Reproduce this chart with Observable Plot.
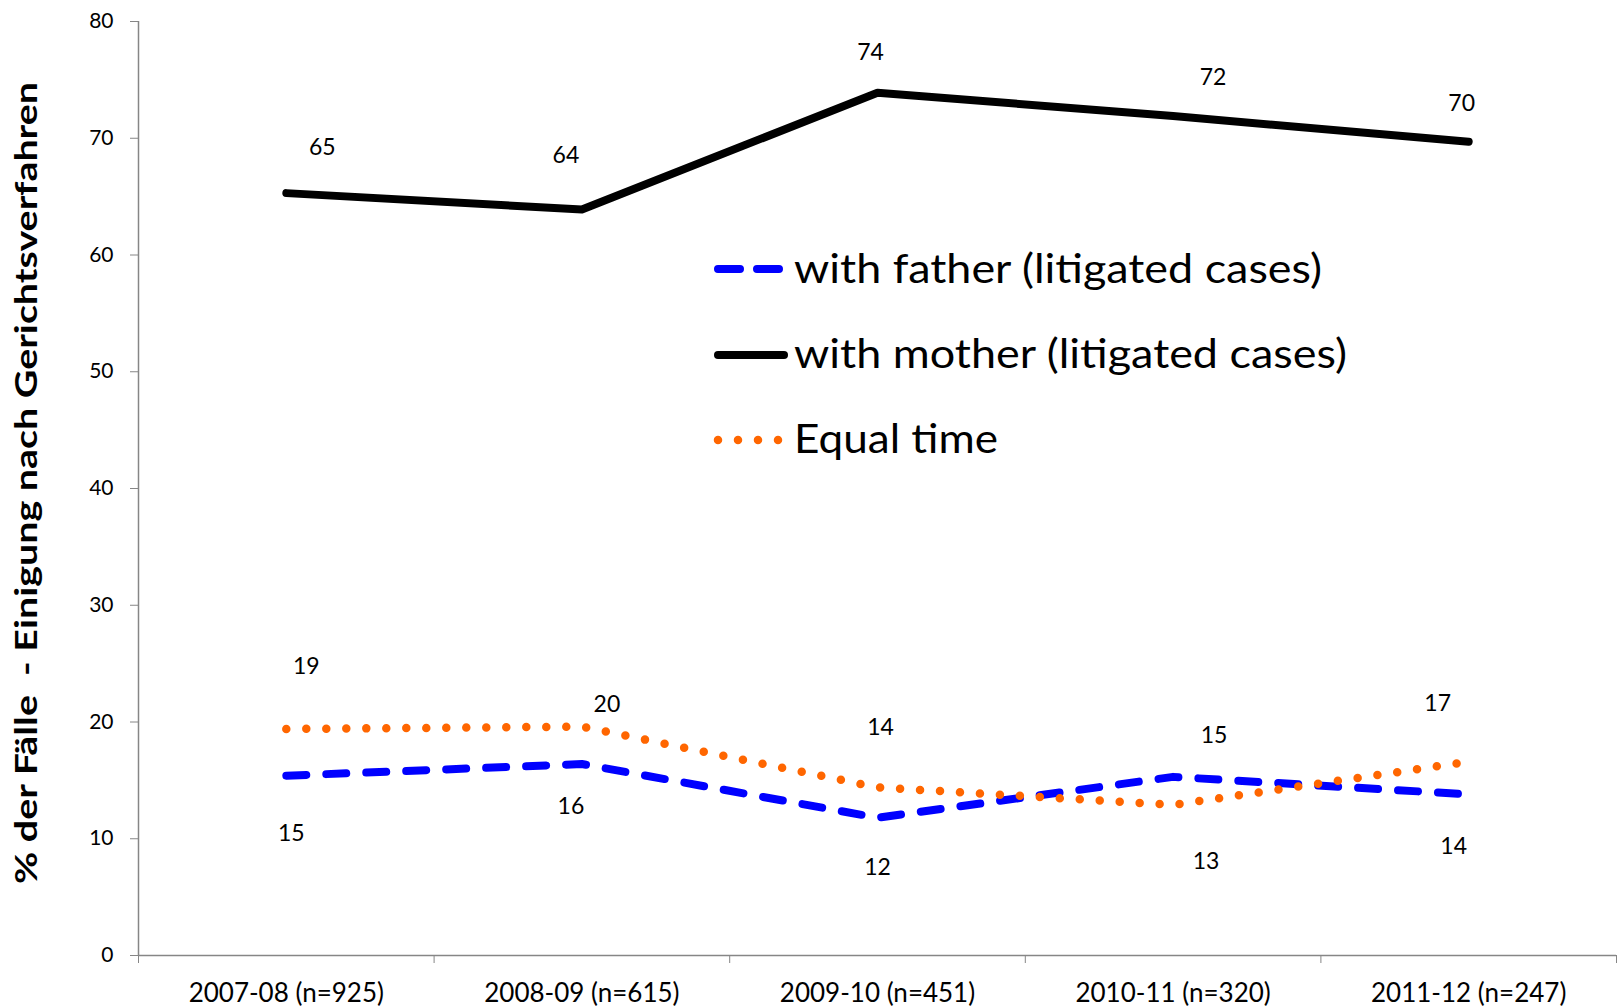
<!DOCTYPE html>
<html>
<head>
<meta charset="utf-8">
<script src="https://cdn.jsdelivr.net/npm/d3@7"></script>
<script src="https://cdn.jsdelivr.net/npm/@observablehq/plot@0.6"></script>
<style>
  body { margin: 0; background: #fff; }
  #chart svg { display: block; }
</style>
</head>
<body>
<div id="chart"></div>
<script>
// ---- data ----
const categories = ["2007-08 (n=925)", "2008-09 (n=615)", "2009-10 (n=451)", "2010-11 (n=320)", "2011-12 (n=247)"];
const withFather = [15.4, 16.4, 11.8, 15.3, 13.8];
const withMother = [65.3, 63.9, 73.9, 71.9, 69.7];
const equalTime  = [19.4, 19.6, 14.4, 12.9, 16.6];
const yTicks = [0, 10, 20, 30, 40, 50, 60, 70, 80];
const seriesNames = ["with father (litigated cases)", "with mother (litigated cases)", "Equal time"];
const yTitle = "% der Fälle  - Einigung nach Gerichtsverfahren";

// ---- styling (not data) ----
const styles = [
  {stroke: "#0000FF", strokeWidth: 8, strokeDasharray: "20,20", strokeLinecap: "round"},
  {stroke: "#000000", strokeWidth: 8, strokeDasharray: null, strokeLinecap: "round"},
  {stroke: "#FF6600", strokeWidth: 8.5, strokeDasharray: "0,20", strokeLinecap: "round"}
];
// label offsets in pixels (label centre relative to point)
const labelOffsets = [
  [[5, 58], [-11, 43], [0, 50], [41, -41], [-15, 52]],
  [[36, -45], [-16, -54], [-7, -40], [40, -38], [-7, -38]],
  [[20, -62], [25, -22], [3, -60], [33, 57], [-31, -58]]
];

const seriesValues = [withFather, withMother, equalTime];
const rows = seriesValues.map((vals, s) => vals.map((v, i) => ({series: seriesNames[s], s, i, category: categories[i], value: v})));

const fmt = d3.format(".0f");
const font = "Lato, 'Open Sans', sans-serif";

const marks = [
  Plot.axisY({ticks: yTicks, tickSize: 8, tickPadding: 17, stroke: "#868686", fill: "black", fontSize: 21, tickFormat: d => String(d), label: null}),
  Plot.axisX({ticks: d3.range(0, categories.length + 1), tickSize: 8, stroke: "#868686", tickFormat: () => "", label: null}),
  Plot.axisX({ticks: categories.map((c, i) => i + 0.5), tickSize: 0, tickPadding: 28, fontSize: 26, fill: "black", tickFormat: v => categories[Math.floor(v)], label: null}),
  Plot.ruleX([0], {stroke: "#868686", strokeWidth: 1.5}),
  Plot.ruleY([0], {stroke: "#868686", strokeWidth: 1.5})
];

rows.forEach((data, s) => {
  const st = styles[s];
  marks.push(Plot.line(data, {
    x: d => d.i + 0.5, y: "value",
    stroke: st.stroke, strokeWidth: st.strokeWidth,
    strokeDasharray: st.strokeDasharray, strokeLinecap: st.strokeLinecap, strokeLinejoin: "round"
  }));
});
rows.forEach((data, s) => {
  data.forEach((d, i) => {
    const [dx, dy] = labelOffsets[s][i];
    marks.push(Plot.text([d], {
      x: d => d.i + 0.5, y: "value", text: d => fmt(d.value),
      dx, dy, fontSize: 23, fill: "black", textAnchor: "middle"
    }));
  });
});

const W = 1617, H = 1008;
const chart = Plot.plot({
  width: W, height: H,
  marginLeft: 138, marginRight: 1, marginTop: 21, marginBottom: 53,
  style: {fontFamily: font, background: "white", color: "black", overflow: "visible"},
  x: {type: "linear", domain: [0, categories.length], axis: null},
  y: {domain: [0, 80], axis: null},
  marks
});

const svg = d3.select(chart);

// y-axis title
svg.append("text")
  .attr("transform", "translate(37,483) rotate(-90)")
  .attr("text-anchor", "middle")
  .attr("font-family", font)
  .attr("font-weight", "bold")
  .attr("font-size", 31)
  .attr("fill", "black")
  .attr("textLength", 802)
  .attr("lengthAdjust", "spacingAndGlyphs")
  .style("white-space", "pre")
  .text(yTitle);

// legend
const legend = svg.append("g").attr("font-family", font).attr("font-size", 41).attr("text-anchor", "start");
const legendRows = [
  {y: 269, baseline: 283, x1: 718, x2: 779, dash: "22,17", len: 528},
  {y: 355, baseline: 368, x1: 718, x2: 784, dash: null, len: 553},
  {y: 440, baseline: 453, x1: 718, x2: 779, dash: "0,20", len: 204}
];
legendRows.forEach((r, s) => {
  const st = styles[s];
  legend.append("line")
    .attr("x1", r.x1).attr("x2", r.x2).attr("y1", r.y).attr("y2", r.y)
    .attr("stroke", st.stroke).attr("stroke-width", st.strokeWidth)
    .attr("stroke-linecap", "round")
    .attr("stroke-dasharray", r.dash);
  legend.append("text")
    .attr("x", 794).attr("y", r.baseline)
    .attr("fill", "black")
    .attr("textLength", r.len)
    .attr("lengthAdjust", "spacingAndGlyphs")
    .text(seriesNames[s]);
});

document.getElementById("chart").appendChild(chart);
</script>
</body>
</html>
